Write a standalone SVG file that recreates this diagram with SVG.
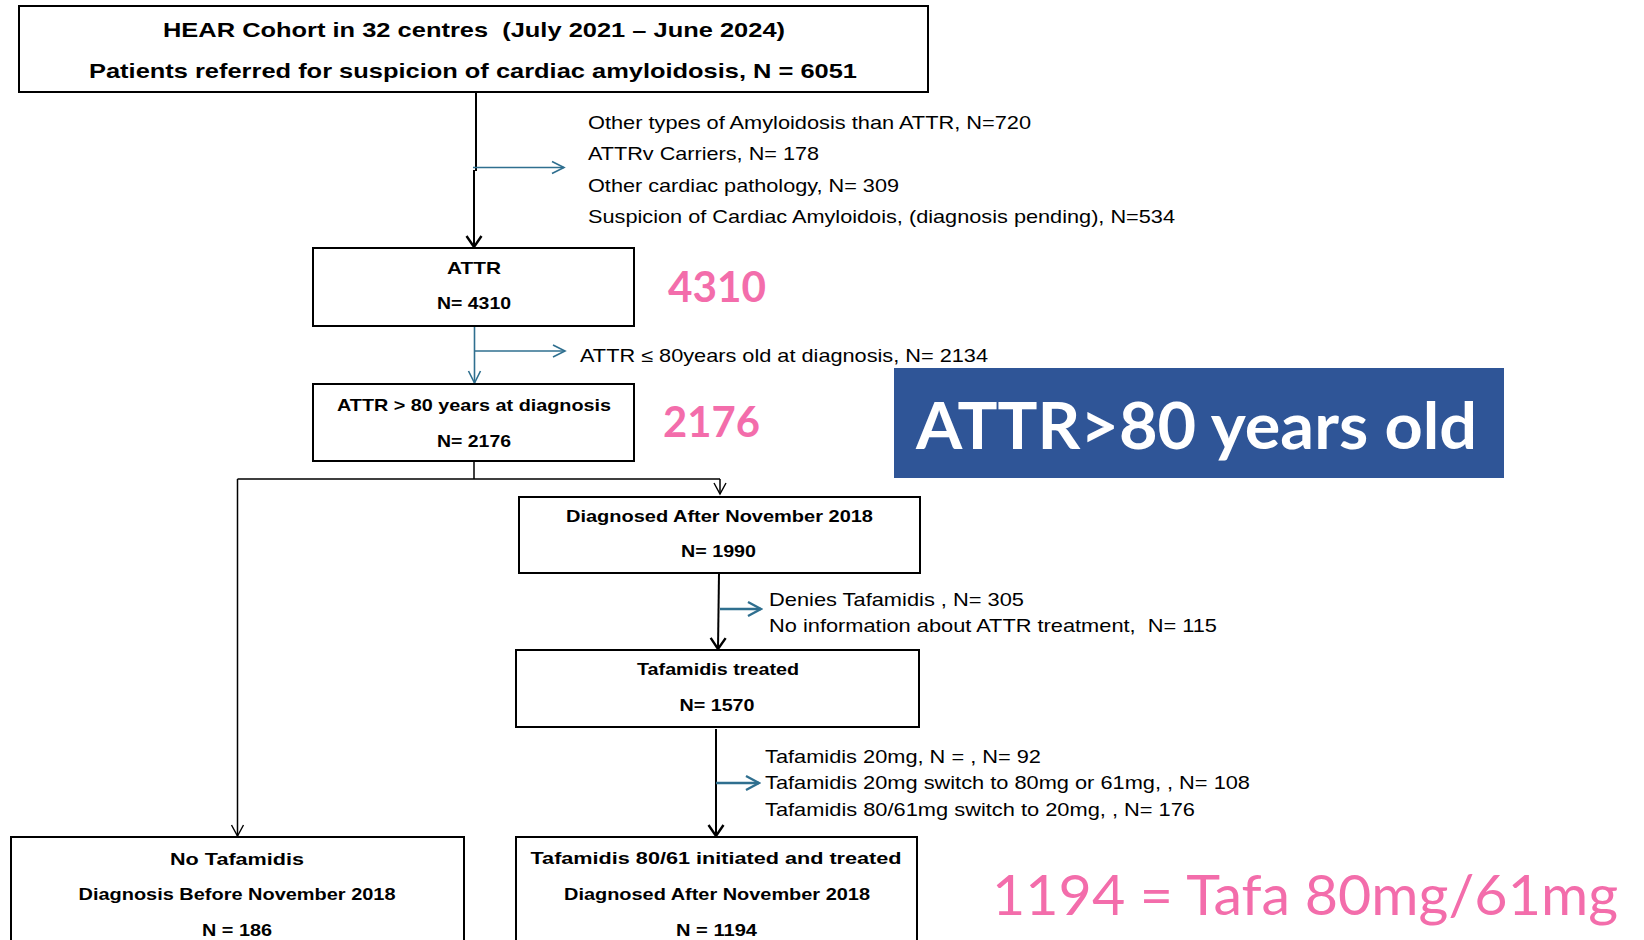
<svg xmlns="http://www.w3.org/2000/svg" width="1644" height="940" viewBox="0 0 1644 940">
<style>
.box{fill:#fff;stroke:#000;stroke-width:2}
.bt{font-family:"Liberation Sans",Arial,sans-serif;font-weight:bold;font-size:17px;fill:#000;text-anchor:middle}
.tt{font-family:"Liberation Sans",Arial,sans-serif;font-weight:bold;font-size:21px;fill:#000;text-anchor:middle}
.rt{font-family:"Liberation Sans",Arial,sans-serif;font-size:18.5px;fill:#000}
.pk{font-family:Lato,"Open Sans",sans-serif;fill:#F36DAB}
.blk{fill:none;stroke:#000;stroke-width:2}
.blk1{fill:none;stroke:#000;stroke-width:1.5}
.blu{fill:none;stroke:#2F6F8F;stroke-width:1.6}
.blu2{fill:none;stroke:#2F6F8F;stroke-width:2.6}
</style>
<defs>
<marker id="ab" viewBox="-14 -9 16 18" markerWidth="16" markerHeight="18" refX="0" refY="0" markerUnits="userSpaceOnUse" orient="auto">
<path d="M-11,-7.5 L0,0 L-11,7.5" fill="none" stroke="#000" stroke-width="2.4"/>
</marker>
<marker id="ab1" viewBox="-14 -9 16 18" markerWidth="16" markerHeight="18" refX="0" refY="0" markerUnits="userSpaceOnUse" orient="auto">
<path d="M-11,-6 L0,0 L-11,6" fill="none" stroke="#000" stroke-width="1.4"/>
</marker>
<marker id="au" viewBox="-14 -9 16 18" markerWidth="16" markerHeight="18" refX="0" refY="0" markerUnits="userSpaceOnUse" orient="auto">
<path d="M-12,-6 L0,0 L-12,6" fill="none" stroke="#2F6F8F" stroke-width="1.6"/>
</marker>
<marker id="au2" viewBox="-15 -9 17 18" markerWidth="17" markerHeight="18" refX="0" refY="0" markerUnits="userSpaceOnUse" orient="auto">
<path d="M-13,-7 L0,0 L-13,7" fill="none" stroke="#2F6F8F" stroke-width="2.4"/>
</marker>
</defs>

<g id="connectors">
<path class="blk" d="M476,92 V171 M474,170 V247" marker-end="url(#ab)"/>
<path class="blu" d="M473,167.5 H564" marker-end="url(#au)"/>
<path class="blu" d="M474.5,326 V383" marker-end="url(#au)"/>
<path class="blu" d="M474.5,351 H565" marker-end="url(#au)"/>
<path class="blk1" d="M474,461 V479 M237.5,479 H720"/>
<path class="blk1" d="M720,479 V494" marker-end="url(#ab1)"/>
<path class="blk1" d="M237.5,479 V836" marker-end="url(#ab1)"/>
<path class="blk" d="M719,573 L718,649" marker-end="url(#ab)"/>
<path class="blu2" d="M720,609 H761" marker-end="url(#au2)"/>
<path class="blk" d="M716,729 V836" marker-end="url(#ab)"/>
<path class="blu2" d="M716,783 H759" marker-end="url(#au2)"/>
</g>

<g id="cohort">
<rect class="box" x="19" y="6" width="909" height="86"/>
<text class="tt" x="474" y="36.5" textLength="622" lengthAdjust="spacingAndGlyphs">HEAR Cohort in 32 centres&#160; (July 2021 – June 2024)</text>
<text class="tt" x="473" y="78" textLength="768" lengthAdjust="spacingAndGlyphs">Patients referred for suspicion of cardiac amyloidosis, N = 6051</text>
</g>

<g id="excluded1">
<text class="rt" x="588" y="129" textLength="443" lengthAdjust="spacingAndGlyphs">Other types of Amyloidosis than ATTR, N=720</text>
<text class="rt" x="588" y="159.5" textLength="231" lengthAdjust="spacingAndGlyphs">ATTRv Carriers, N= 178</text>
<text class="rt" x="588" y="191.5" textLength="311" lengthAdjust="spacingAndGlyphs">Other cardiac pathology, N= 309</text>
<text class="rt" x="588" y="222.5" textLength="587" lengthAdjust="spacingAndGlyphs">Suspicion of Cardiac Amyloidois, (diagnosis pending), N=534</text>
</g>

<g id="attr">
<rect class="box" x="313" y="248" width="321" height="78"/>
<text class="bt" x="474" y="274" textLength="54" lengthAdjust="spacingAndGlyphs">ATTR</text>
<text class="bt" x="474" y="309" textLength="74" lengthAdjust="spacingAndGlyphs">N= 4310</text>
</g>
<text id="pink4310" class="pk" x="668" y="302" font-size="42" font-weight="bold" textLength="98" lengthAdjust="spacingAndGlyphs">4310</text>

<g id="excluded2">
<text class="rt" x="580" y="362" textLength="408" lengthAdjust="spacingAndGlyphs">ATTR ≤ 80years old at diagnosis, N= 2134</text>
</g>

<g id="attr80">
<rect class="box" x="313" y="384" width="321" height="77"/>
<text class="bt" x="474" y="411" textLength="274" lengthAdjust="spacingAndGlyphs">ATTR &gt; 80 years at diagnosis</text>
<text class="bt" x="474" y="446.5" textLength="74" lengthAdjust="spacingAndGlyphs">N= 2176</text>
</g>
<text id="pink2176" class="pk" x="663" y="437" font-size="42" font-weight="bold" textLength="97" lengthAdjust="spacingAndGlyphs">2176</text>

<g id="banner">
<rect x="894" y="368" width="610" height="110" fill="#2F5597"/>
<text x="916" y="449" font-family="Lato,'Open Sans',sans-serif" font-weight="bold" font-size="65" fill="#fff" textLength="561" lengthAdjust="spacingAndGlyphs">ATTR&gt;80 years old</text>
</g>

<g id="diagnosed">
<rect class="box" x="519" y="497" width="401" height="76"/>
<text class="bt" x="719.5" y="522" textLength="307" lengthAdjust="spacingAndGlyphs">Diagnosed After November 2018</text>
<text class="bt" x="718.5" y="557" textLength="75" lengthAdjust="spacingAndGlyphs">N= 1990</text>
</g>

<g id="excluded3">
<text class="rt" x="769" y="606" textLength="255" lengthAdjust="spacingAndGlyphs">Denies Tafamidis , N= 305</text>
<text class="rt" x="769" y="632" textLength="448" lengthAdjust="spacingAndGlyphs">No information about ATTR treatment,&#160; N= 115</text>
</g>

<g id="treated">
<rect class="box" x="516" y="650" width="403" height="77"/>
<text class="bt" x="718" y="675" textLength="162" lengthAdjust="spacingAndGlyphs">Tafamidis treated</text>
<text class="bt" x="717" y="711" textLength="75" lengthAdjust="spacingAndGlyphs">N= 1570</text>
</g>

<g id="doses">
<text class="rt" x="765" y="763" textLength="276" lengthAdjust="spacingAndGlyphs">Tafamidis 20mg, N = , N= 92</text>
<text class="rt" x="765" y="789" textLength="485" lengthAdjust="spacingAndGlyphs">Tafamidis 20mg switch to 80mg or 61mg, , N= 108</text>
<text class="rt" x="765" y="816" textLength="430" lengthAdjust="spacingAndGlyphs">Tafamidis 80/61mg switch to 20mg, , N= 176</text>
</g>

<g id="notafamidis">
<rect class="box" x="11" y="837" width="453" height="130"/>
<text class="bt" x="237" y="865" textLength="134" lengthAdjust="spacingAndGlyphs">No Tafamidis</text>
<text class="bt" x="237" y="900" textLength="317" lengthAdjust="spacingAndGlyphs">Diagnosis Before November 2018</text>
<text class="bt" x="237" y="935.5" textLength="70" lengthAdjust="spacingAndGlyphs">N = 186</text>
</g>

<g id="tafa8061">
<rect class="box" x="516" y="837" width="401" height="130"/>
<text class="bt" x="716" y="864" textLength="371" lengthAdjust="spacingAndGlyphs">Tafamidis 80/61 initiated and treated</text>
<text class="bt" x="717" y="900" textLength="306" lengthAdjust="spacingAndGlyphs">Diagnosed After November 2018</text>
<text class="bt" x="716.5" y="935.5" textLength="81" lengthAdjust="spacingAndGlyphs">N = 1194</text>
</g>

<text id="pink1194" class="pk" x="992" y="915" font-size="57" textLength="626" lengthAdjust="spacingAndGlyphs">1194 = Tafa 80mg/61mg</text>
</svg>
